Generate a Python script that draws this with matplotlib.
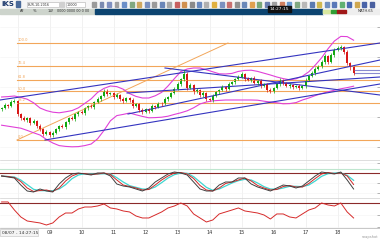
import numpy as np
import pandas as pd
import matplotlib
matplotlib.use("Agg")
import matplotlib.pyplot as plt
from matplotlib.patches import Rectangle

# Datos (precios de cierre)
first_open = 1.1040
close = [1.1045, 1.1060, 1.1055, 1.1075, 1.1080, 1.1015, 1.0995, 1.0985, 1.0995, 1.0970,
         1.0980, 1.0955, 1.0940, 1.0915, 1.0925, 1.0910, 1.0920, 1.0940, 1.0955, 1.0950,
         1.0975, 1.0995, 1.0990, 1.1015, 1.1025, 1.1020, 1.1045, 1.1055, 1.1050, 1.1075,
         1.1090, 1.1105, 1.1130, 1.1115, 1.1120, 1.1100, 1.1110, 1.1090, 1.1080, 1.1095,
         1.1085, 1.1055, 1.1065, 1.1035, 1.1025, 1.1040, 1.1030, 1.1055, 1.1050, 1.1070,
         1.1065, 1.1090, 1.1100, 1.1120, 1.1140, 1.1165, 1.1190, 1.1215, 1.1145, 1.1160,
         1.1125, 1.1135, 1.1110, 1.1120, 1.1090, 1.1085, 1.1105, 1.1125, 1.1135, 1.1150,
         1.1140, 1.1165, 1.1175, 1.1190, 1.1200, 1.1215, 1.1190, 1.1185, 1.1195, 1.1170,
         1.1180, 1.1155, 1.1165, 1.1135, 1.1130, 1.1145, 1.1165, 1.1185, 1.1170, 1.1155,
         1.1160, 1.1150, 1.1155, 1.1145, 1.1155, 1.1185, 1.1205, 1.1220, 1.1240, 1.1255,
         1.1275, 1.1305, 1.1275, 1.1310, 1.1335, 1.1345, 1.1350, 1.1325, 1.1270, 1.1250,
         1.1220]
# mechas en pips
wick_up = [6, 8, 4, 10, 12, 6, 4, 8, 6, 4, 10, 6, 8, 4, 10, 6, 8, 6, 4, 8,
           6, 4, 10, 6, 4, 8, 6, 4, 8, 6, 10, 6, 12, 8, 6, 4, 10, 6, 8, 4,
           6, 8, 4, 6, 10, 6, 4, 8, 6, 4, 6, 8, 6, 4, 8, 10, 6, 20, 8, 10,
           6, 8, 4, 10, 6, 4, 8, 6, 4, 10, 6, 8, 6, 4, 8, 12, 6, 8, 4, 10,
           6, 8, 4, 6, 10, 6, 4, 8, 6, 4, 8, 6, 4, 10, 6, 8, 6, 10, 8, 6,
           12, 8, 6, 10, 8, 12, 10, 6, 8, 6, 4]
wick_dn = [8, 6, 10, 4, 6, 12, 8, 6, 10, 8, 6, 10, 8, 12, 6, 10, 8, 6, 10, 6,
           8, 10, 6, 8, 10, 6, 8, 10, 6, 8, 6, 8, 4, 10, 6, 8, 6, 10, 8, 6,
           10, 8, 6, 12, 8, 6, 10, 6, 8, 6, 10, 6, 8, 6, 4, 6, 8, 10, 12, 6,
           8, 6, 10, 8, 12, 6, 8, 6, 10, 6, 8, 6, 4, 8, 6, 6, 10, 6, 8, 6,
           10, 8, 6, 12, 8, 10, 6, 8, 10, 6, 8, 10, 6, 8, 6, 8, 6, 4, 8, 6,
           8, 10, 8, 6, 8, 6, 8, 10, 12, 14, 10]

# indicadores, una lectura cada 2 velas
ind_idx = list(range(0, 111, 2))
bb_upper = [1.1100, 1.1102, 1.1105, 1.1098, 1.1089, 1.1071, 1.1045, 1.1032, 1.1024, 1.1021,
            1.1026, 1.1032, 1.1046, 1.1068, 1.1091, 1.1123, 1.1143, 1.1155, 1.1152, 1.1139,
            1.1117, 1.1103, 1.1095, 1.1095, 1.1106, 1.1123, 1.1155, 1.1192, 1.1227, 1.1240,
            1.1245, 1.1245, 1.1236, 1.1226, 1.1216, 1.1215, 1.1218, 1.1228, 1.1233, 1.1234,
            1.1228, 1.1219, 1.1210, 1.1200, 1.1192, 1.1186, 1.1191, 1.1204, 1.1226, 1.1259,
            1.1296, 1.1341, 1.1380, 1.1403, 1.1402, 1.1384]
bb_lower = [1.0959, 1.0954, 1.0949, 1.0944, 1.0933, 1.0921, 1.0910, 1.0888, 1.0870, 1.0857,
            1.0853, 1.0851, 1.0852, 1.0857, 1.0865, 1.0891, 1.0933, 1.0981, 1.1007, 1.1013,
            1.1020, 1.1011, 1.1003, 1.0996, 1.0997, 1.0999, 1.1004, 1.1013, 1.1021, 1.1031,
            1.1046, 1.1065, 1.1075, 1.1081, 1.1083, 1.1085, 1.1085, 1.1085, 1.1085, 1.1085,
            1.1084, 1.1079, 1.1075, 1.1071, 1.1066, 1.1067, 1.1072, 1.1085, 1.1095, 1.1107,
            1.1117, 1.1126, 1.1134, 1.1141, 1.1147, 1.1154]
stoch_k = [71, 68, 65, 44, 26, 23, 32, 26, 23, 47, 65, 77, 80, 77, 74, 80, 80, 71, 47, 41,
           38, 32, 26, 35, 53, 65, 77, 83, 80, 74, 53, 32, 26, 26, 44, 53, 53, 65, 65, 47,
           38, 32, 26, 35, 44, 41, 35, 41, 56, 71, 83, 80, 77, 83, 59, 32]
rsi = [71.7, 71.7, 58.3, 46.7, 40.0, 38.3, 36.7, 33.3, 36.7, 46.7, 53.3, 53.3, 60.0, 63.3,
       63.3, 65.0, 68.3, 61.7, 60.0, 56.7, 55.0, 48.3, 45.0, 45.0, 50.0, 55.0, 61.7, 65.0,
       70.0, 65.0, 51.7, 45.0, 38.3, 41.7, 51.7, 55.0, 58.3, 61.7, 56.7, 55.0, 53.3, 50.0,
       43.3, 51.7, 51.7, 46.7, 45.0, 51.7, 58.3, 61.7, 70.0, 66.7, 65.0, 70.0, 55.0, 45.0]

# retroceso de Fibonacci
fib_x0, fib_x1 = 4.8, 70.75
fib_low, fib_high = 1.0885, 1.1370
fib_levels = [0.0, 38.2, 50.0, 61.8, 76.4, 100.0]

# lineas de tendencia (indice vela, precio)
tl_x0 = [-0.5, 13.56, 39.19, 39.5, 51.06]
tl_p0 = [1.1085, 1.0885, 1.1120, 1.1015, 1.1245]
tl_x1 = [118.25, 118.25, 118.25, 118.25, 118.25]
tl_p1 = [1.1370, 1.1165, 1.1200, 1.1285, 1.1110]

bid_ask = [1.1235, 1.1220]

tick_pos = [5, 15, 25, 35, 45, 55, 65, 75, 85, 95, 105]
tick_lab = ['', '09', '10', '11', '12', '13', '14', '15', '16', '17', '18']

GREEN = '#12a812'
RED = '#d81818'
BLUE = '#3434c0'
ORANGE = '#f2a65a'
MAG = '#e040d8'

xs = np.arange(len(close))
c = np.array(close)
o = np.array([first_open] + close[:-1])
hi = np.maximum(o, c) + np.array(wick_up) * 0.0001
lo = np.minimum(o, c) - np.array(wick_dn) * 0.0001

k = pd.Series(stoch_k)
k_sig = k.rolling(2, min_periods=1).mean()
k_sig2 = k.rolling(3, min_periods=1).mean()

W, H = 380, 240
fig = plt.figure(figsize=(3.8, 2.4), dpi=100)
fig.patch.set_facecolor('white')


def box(x, y, w, h):
    return [x / W, 1 - (y + h) / H, w / W, h / H]


def rect(x, y, w, h, color, **kw):
    fig.add_artist(Rectangle((x / W, 1 - (y + h) / H), w / W, h / H,
                             transform=fig.transFigure, color=color, **kw))


def ftext(x, y, s, **kw):
    fig.text(x / W, 1 - y / H, s, **kw)


xlim = (-0.5, 118.25)

ax = fig.add_axes(box(0, 14, 380, 146))
ax2 = fig.add_axes(box(0, 160, 380, 38))
ax3 = fig.add_axes(box(0, 198, 380, 30))

for a in (ax, ax2, ax3):
    a.set_xlim(*xlim)
    a.set_facecolor('white')
    for s in ('left', 'bottom'):
        a.spines[s].set_visible(False)
    a.spines['top'].set_color('#d0d0d0')
    a.spines['top'].set_linewidth(0.5)
    a.spines['right'].set_color('#c8c8c8')
    a.spines['right'].set_linewidth(0.6)
    a.set_xticks(tick_pos)
    a.tick_params(axis='x', length=0, labelbottom=False)
    a.yaxis.tick_right()
    a.tick_params(axis='y', direction='in', length=2, width=0.5, color='#999999', labelright=False)
    a.grid(axis='x', color='#ececec', lw=0.5)
    a.grid(axis='y', color='#f4f4f4', lw=0.4)
    a.set_axisbelow(True)

# panel principal
ax.set_ylim(1.0785, 1.1515)
ax.set_yticks([1.0850, 1.1000, 1.1150, 1.1300, 1.1450])

for lv in fib_levels:
    p = fib_low + (fib_high - fib_low) * lv / 100
    ax.plot([fib_x0, xlim[1]], [p, p], color=ORANGE, lw=0.8)
    ax.text(fib_x0 + 0.3, p + 0.0004, f'{lv:.1f}', color=ORANGE, fontsize=2.6, va='bottom')
ax.plot([fib_x0, fib_x1], [fib_low, fib_high], color=ORANGE, lw=0.7)

ax.plot(ind_idx, bb_upper, color=MAG, lw=0.8)
ax.plot(ind_idx, bb_lower, color=MAG, lw=0.8)

for x0, p0, x1, p1 in zip(tl_x0, tl_p0, tl_x1, tl_p1):
    ax.plot([x0, x1], [p0, p1], color=BLUE, lw=0.8)
for p in bid_ask:
    ax.plot([len(close) - 1, xlim[1]], [p, p], color='#8a8ad0', lw=0.8)

cols = np.where(c >= o, GREEN, RED)
ax.vlines(xs, lo, hi, colors=cols, lw=0.5)
ax.bar(xs, np.maximum(np.abs(c - o), 0.0002), bottom=np.minimum(o, c), width=0.62,
       color=cols, linewidth=0)

# estocastico
ax2.set_ylim(5, 119)
ax2.set_yticks([20, 50, 80, 110])
ax2.axhline(80, color='#8b2a2a', lw=0.8)
ax2.axhline(92, color='#bfe6cf', lw=0.8)
ax2.plot(ind_idx, k_sig2, color='#3ed6d0', lw=0.9)
ax2.plot(ind_idx, k_sig, color='#d02828', lw=0.7)
ax2.plot(ind_idx, k, color='#404040', lw=0.7)

# RSI
ax3.set_ylim(28.3, 78.3)
ax3.set_yticks([30, 50, 70])
ax3.axhline(70, color='#8b2a2a', lw=0.8)
ax3.plot(ind_idx, rsi, color='#d62a2a', lw=0.7)
ax3.spines['bottom'].set_visible(True)
ax3.spines['bottom'].set_color('#b0b0b0')
ax3.spines['bottom'].set_linewidth(0.5)
ax3.tick_params(axis='x', labelbottom=True, labelsize=3.6, labelcolor='#333333', pad=1.5)
ax3.set_xticklabels(tick_lab)

# barra superior
rect(0, 0, 380, 9, '#f6f6f6')
rect(0, 9, 95, 5, '#cdd4cc')
rect(95, 9, 228, 5, '#0c4470')
rect(323, 9, 57, 5, '#eeeeee')
rect(323, 10, 8, 3, '#d8e8a0')
rect(331, 10, 6, 3, '#2f9e35')
rect(337, 10, 9, 3, '#a01818')
ftext(1, 4.5, 'iKS', fontsize=5, fontweight='bold', color='#1d3a6e', va='center')
ftext(358, 11.5, 'MATH.65', fontsize=2.6, color='#333333', va='center')
rect(16, 1.5, 4, 5, '#4a6a9a')
rect(27, 2, 32, 5, 'white', ec='#b0b0b0', lw=0.4)
ftext(28, 4.5, 'EUR-10-2016', fontsize=2.4, color='#333333', va='center')
rect(60, 2, 4, 5, '#d0d0d0')
rect(66, 2, 19, 5, 'white', ec='#b0b0b0', lw=0.4)
ftext(67, 4.5, '10000', fontsize=2.4, color='#333333', va='center')
icon_cols = ['#9a9a9a', '#7a8ab0', '#8090c0', '#a0a0a0', '#6a8ec8', '#80a880', '#d0a860',
             '#7a90c0', '#9a9a9a', '#6a86b8', '#a8a8a8', '#c86060', '#d09050', '#8a8a8a',
             '#6a8ac0', '#b0b0b0', '#e0b040', '#7a90c0', '#c87070', '#909090', '#6a88b8',
             '#e0a050', '#7aa87a', '#6a7fb0', '#a0a0a0', '#d08060', '#6a9ad0', '#80a880',
             '#b8b8b8', '#5a7ab0', '#d0b850', '#7090c0', '#5a78b8', '#60b070', '#4a6ab0',
             '#d0a850', '#4a64a8', '#4a60a0']
for kk, col in enumerate(icon_cols):
    rect(92 + kk * 7.5, 2.5, 4, 4, col)
rect(268, 6, 23, 6, '#101010')
ftext(279.5, 9, '14:27:15', fontsize=3.2, color='white', ha='center', va='center')

ftext(20, 11.5, 'AF', fontsize=2.6, color='#333333', va='center')
ftext(33, 11.5, '%', fontsize=2.6, color='#333333', va='center')
ftext(48, 11.5, '1W', fontsize=2.6, color='#333333', va='center')
ftext(57, 11.5, '0000 0000 00 0 00', fontsize=2.4, color='#333333', va='center')

# caja de hora inferior
rect(0, 229, 38, 7, '#f4f4f4', ec='#c0c0c0', lw=0.4)
ftext(2, 232.5, '08/07 - 14:27:15', fontsize=3.2, color='#333333', va='center')
ftext(378, 237, 'snapshot', fontsize=2.6, color='#9a9a9a', ha='right', va='center')

fig.savefig('out.png', dpi=100, facecolor='white')
